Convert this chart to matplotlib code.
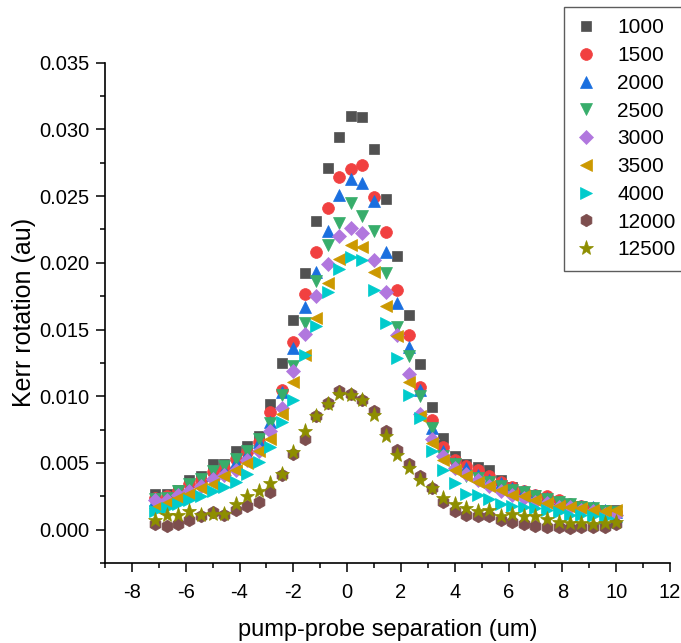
import matplotlib
matplotlib.use("Agg")
import matplotlib.pyplot as plt
from matplotlib.ticker import MultipleLocator

plt.rcParams['font.family'] = ['Liberation Sans', 'DejaVu Sans']
plt.rcParams['axes.unicode_minus'] = False

# pump-probe separation (um)
sep = [-7.14, -6.71, -6.29, -5.86, -5.43, -5.00, -4.57, -4.14, -3.71, -3.29,
       -2.86, -2.43, -2.00, -1.57, -1.14, -0.71, -0.29, 0.14, 0.57, 1.00,
       1.43, 1.86, 2.29, 2.71, 3.14, 3.57, 4.00, 4.43, 4.86, 5.29,
       5.71, 6.14, 6.57, 7.00, 7.43, 7.86, 8.29, 8.71, 9.14, 9.57, 10.00]

k1000 = [0.0027, 0.0027, 0.0030, 0.0037, 0.0040, 0.0049, 0.0049, 0.0059, 0.0063, 0.0070,
         0.0094, 0.0125, 0.0157, 0.0192, 0.0231, 0.0271, 0.0294, 0.0310, 0.0309, 0.0285,
         0.0248, 0.0205, 0.0161, 0.0124, 0.0092, 0.0069, 0.0055, 0.0049, 0.0047, 0.0045,
         0.0037, 0.0032, 0.0028, 0.0026, 0.0024, 0.0021, 0.0019, 0.0018, 0.0016, 0.0015, 0.0015]
k1500 = [0.0024, 0.0025, 0.0029, 0.0034, 0.0037, 0.0043, 0.0046, 0.0053, 0.0058, 0.0066,
         0.0088, 0.0105, 0.0141, 0.0177, 0.0208, 0.0241, 0.0264, 0.0270, 0.0273, 0.0249,
         0.0223, 0.0180, 0.0146, 0.0107, 0.0082, 0.0062, 0.0052, 0.0048, 0.0045, 0.0040,
         0.0036, 0.0032, 0.0029, 0.0026, 0.0025, 0.0022, 0.0019, 0.0018, 0.0016, 0.0014, 0.0013]
k2000 = [0.0022, 0.0024, 0.0027, 0.0032, 0.0036, 0.0041, 0.0045, 0.0051, 0.0057, 0.0066,
         0.0081, 0.0103, 0.0136, 0.0167, 0.0193, 0.0224, 0.0251, 0.0263, 0.0260, 0.0246,
         0.0208, 0.0170, 0.0137, 0.0105, 0.0076, 0.0059, 0.0050, 0.0046, 0.0041, 0.0037,
         0.0035, 0.0031, 0.0029, 0.0026, 0.0024, 0.0021, 0.0019, 0.0018, 0.0017, 0.0015, 0.0013]
k2500 = [0.0023, 0.0024, 0.0029, 0.0034, 0.0038, 0.0044, 0.0048, 0.0053, 0.0059, 0.0068,
         0.0080, 0.0101, 0.0123, 0.0155, 0.0186, 0.0213, 0.0230, 0.0245, 0.0235, 0.0224,
         0.0192, 0.0152, 0.0130, 0.0100, 0.0076, 0.0055, 0.0049, 0.0040, 0.0039, 0.0036,
         0.0033, 0.0030, 0.0028, 0.0025, 0.0023, 0.0021, 0.0019, 0.0017, 0.0016, 0.0014, 0.0013]
k3000 = [0.0022, 0.0022, 0.0026, 0.0029, 0.0033, 0.0038, 0.0041, 0.0045, 0.0052, 0.0059,
         0.0074, 0.0091, 0.0119, 0.0147, 0.0175, 0.0199, 0.0220, 0.0226, 0.0222, 0.0202,
         0.0178, 0.0146, 0.0117, 0.0087, 0.0068, 0.0055, 0.0046, 0.0042, 0.0037, 0.0033,
         0.0029, 0.0026, 0.0024, 0.0021, 0.0020, 0.0017, 0.0017, 0.0015, 0.0014, 0.0012, 0.0011]
k3500 = [0.0016, 0.0020, 0.0024, 0.0027, 0.0031, 0.0034, 0.0040, 0.0045, 0.0050, 0.0059,
         0.0068, 0.0087, 0.0111, 0.0131, 0.0159, 0.0185, 0.0203, 0.0213, 0.0212, 0.0193,
         0.0168, 0.0145, 0.0111, 0.0085, 0.0065, 0.0052, 0.0045, 0.0040, 0.0036, 0.0033,
         0.0030, 0.0026, 0.0025, 0.0022, 0.0020, 0.0018, 0.0017, 0.0016, 0.0015, 0.0014, 0.0015]
k4000 = [0.0014, 0.0016, 0.0019, 0.0022, 0.0025, 0.0029, 0.0032, 0.0036, 0.0042, 0.0051,
         0.0062, 0.0081, 0.0097, 0.0131, 0.0153, 0.0178, 0.0195, 0.0204, 0.0202, 0.0180,
         0.0155, 0.0129, 0.0101, 0.0084, 0.0059, 0.0045, 0.0035, 0.0027, 0.0026, 0.0023,
         0.0019, 0.0018, 0.0017, 0.0016, 0.0015, 0.0013, 0.0011, 0.0011, 0.0010, 0.0009, 0.0006]
k12000 = [0.0004, 0.0003, 0.0004, 0.0007, 0.0010, 0.0013, 0.0011, 0.0015, 0.0018, 0.0021,
          0.0028, 0.0041, 0.0057, 0.0068, 0.0085, 0.0095, 0.0104, 0.0102, 0.0097, 0.0089,
          0.0074, 0.0060, 0.0049, 0.0040, 0.0031, 0.0021, 0.0014, 0.0011, 0.0010, 0.0010,
          0.0007, 0.0006, 0.0004, 0.0003, 0.0002, 0.0002, 0.0001, 0.0002, 0.0002, 0.0002, 0.0004]
k12500 = [0.0007, 0.0011, 0.0011, 0.0014, 0.0011, 0.0012, 0.0012, 0.0019, 0.0025, 0.0029,
          0.0035, 0.0042, 0.0058, 0.0074, 0.0085, 0.0094, 0.0102, 0.0101, 0.0097, 0.0086,
          0.0070, 0.0056, 0.0046, 0.0037, 0.0031, 0.0024, 0.0019, 0.0016, 0.0014, 0.0015,
          0.0010, 0.0012, 0.0010, 0.0010, 0.0008, 0.0006, 0.0005, 0.0005, 0.0004, 0.0005, 0.0006]

labels = ["1000", "1500", "2000", "2500", "3000", "3500", "4000", "12000", "12500"]
series = [k1000, k1500, k2000, k2500, k3000, k3500, k4000, k12000, k12500]
colors = ["#515151", "#F14040", "#1A6FDF", "#37AD6B", "#B177DE",
          "#CC9900", "#00CBCC", "#7D4E4E", "#8E8E00"]
markers = ["s", "o", "^", "v", "D", "<", ">", "h", "*"]
sizes = [7.5, 8.5, 9, 9, 7.5, 9, 9, 9, 11]

fig = plt.figure(figsize=(6.81, 6.43), dpi=100)
ax = fig.add_axes([0.1542, 0.1244, 0.8296, 0.7781])

for vals, lab, c, m, ms in zip(series, labels, colors, markers, sizes):
    ax.plot(sep, vals, linestyle='none', marker=m, markersize=ms, color=c,
            markeredgewidth=0.5, label=lab)

ax.set_xlim(-9, 12)
ax.set_ylim(-0.0025, 0.035)
ax.xaxis.set_major_locator(MultipleLocator(2))
ax.xaxis.set_minor_locator(MultipleLocator(1))
ax.yaxis.set_major_locator(MultipleLocator(0.005))
ax.yaxis.set_minor_locator(MultipleLocator(0.0025))
ax.yaxis.set_major_formatter(plt.FormatStrFormatter('%.3f'))

ax.spines['top'].set_visible(False)
ax.spines['right'].set_visible(False)
for sp in ['left', 'bottom']:
    ax.spines[sp].set_linewidth(1.2)
ax.tick_params(which='major', direction='out', length=6.5, width=1.1, labelsize=14.5)
ax.tick_params(which='minor', direction='out', length=3.3, width=1.1)
ax.tick_params(axis='y', pad=5)
ax.tick_params(axis='x', pad=8)

ax.set_xlabel("pump-probe separation (um)", fontsize=17, labelpad=12)
ax.set_ylabel("Kerr rotation (au)", fontsize=18, labelpad=2)

leg = fig.legend(loc='upper left', bbox_to_anchor=(564 / 681, 1 - 7 / 643),
                 frameon=True, fancybox=False, edgecolor='#333333', fontsize=15,
                 handlelength=1.0, handletextpad=1.0, labelspacing=0.42,
                 borderpad=0.55, borderaxespad=0)
leg.get_frame().set_linewidth(1.0)

fig.savefig("out.png", dpi=100)
